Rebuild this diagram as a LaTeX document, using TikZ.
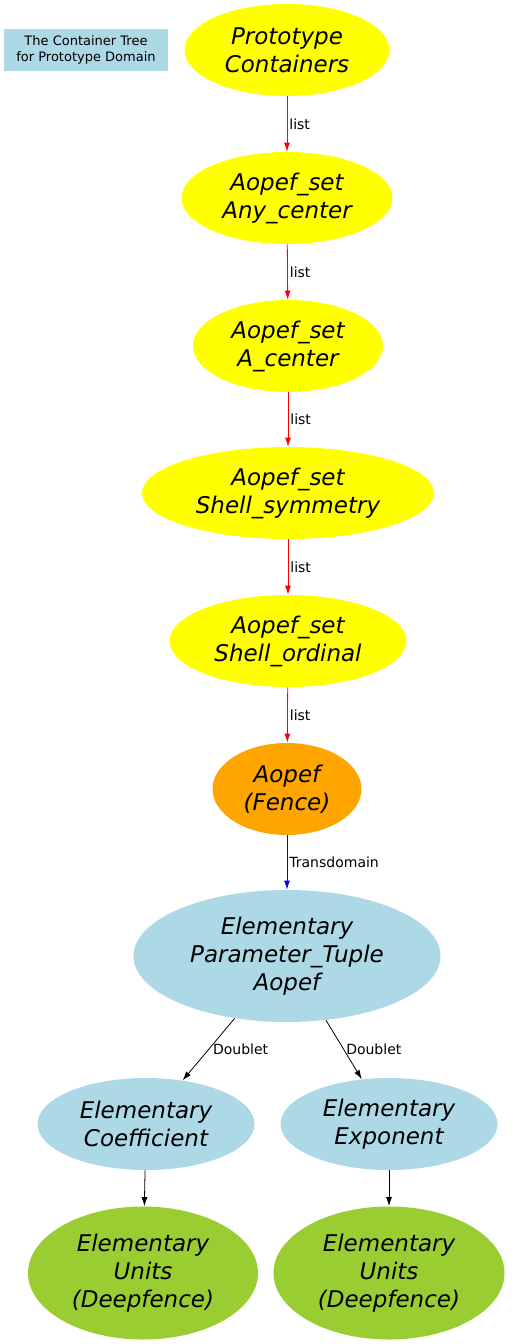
\documentclass[tikz,border=0pt]{standalone}
\usepackage{fontspec}
\setmainfont{DejaVu Sans}
\usepackage{tikz}
\usetikzlibrary{shapes}
\usetikzlibrary{arrows.meta}
\definecolor{gvyellow}{HTML}{FFFF00}
\definecolor{gvorange}{HTML}{FFA500}
\definecolor{gvblue}{HTML}{ADD8E6}
\definecolor{gvgreen}{HTML}{9ACD32}
\tikzset{
	main node/.style={ellipse,inner sep=0pt,align=center,minimum height=92pt,font=\fontsize{23}{28}\selectfont\itshape},
	set node/.style={main node,fill=gvyellow},
	fence node/.style={main node,fill=gvorange},
	tuple node/.style={main node,fill=gvblue},
	units node/.style={main node,fill=gvgreen},
	legend/.style={rectangle,fill=gvblue,align=center,minimum width=164pt,minimum height=42pt,font=\fontsize{13}{16}\selectfont},
	edge label/.style={right,inner sep=2pt,text=black,font=\fontsize{14}{16}\selectfont}
}

\begin{document}
\begin{tikzpicture}[x=1pt,y=-1pt,>={Latex[length=9pt,width=6pt]},line width=0.8pt]
  \useasboundingbox (0,0) rectangle (518,1344);
  \node [legend] (key) at (86,50) {The Container Tree\\for Prototype Domain};

  \node [set node,minimum width=205pt] (proto) at (287,50) {Prototype\\Containers};
  \node [set node,minimum width=211pt] (anyc) at (287,198) {Aopef\_set\\Any\_center};
  \node [set node,minimum width=190pt] (ac) at (288,346) {Aopef\_set\\A\_center};
  \node [set node,minimum width=292pt] (shsym) at (288,493) {Aopef\_set\\Shell\_symmetry};
  \node [set node,minimum width=237pt] (shord) at (288,641) {Aopef\_set\\Shell\_ordinal};
  \node [fence node,minimum width=149pt] (fence) at (287,789) {Aopef\\(Fence)};
  \node [tuple node,minimum width=307pt,minimum height=132pt] (tuple) at (287,956) {Elementary\\Parameter\_Tuple\\Aopef};
  \node [tuple node,minimum width=217pt] (coef) at (146,1124) {Elementary\\Coefficient};
  \node [tuple node,minimum width=217pt] (expo) at (389,1124) {Elementary\\Exponent};
  \node [units node,minimum width=230pt,minimum height=133pt] (unitsl) at (143,1273) {Elementary\\Units\\(Deepfence)};
  \node [units node,minimum width=231pt,minimum height=133pt] (unitsr) at (389,1273) {Elementary\\Units\\(Deepfence)};

  \draw [->,red] (proto) -- node[edge label] {list} (anyc);
  \draw [->,red] (anyc) -- node[edge label] {list} (ac);
  \draw [->,red] (ac) -- node[edge label] {list} (shsym);
  \draw [->,red] (shsym) -- node[edge label] {list} (shord);
  \draw [->,red] (shord) -- node[edge label] {list} (fence);
  \draw [->,blue] (fence) -- node[edge label] {Transdomain} (tuple);
  \draw [->] (tuple) -- node[edge label,inner sep=4pt] {Doublet} (coef);
  \draw [->] (tuple) -- node[edge label] {Doublet} (expo);
  \draw [->] (coef) -- (unitsl);
  \draw [->] (expo) -- (unitsr);
\end{tikzpicture}
\end{document}
